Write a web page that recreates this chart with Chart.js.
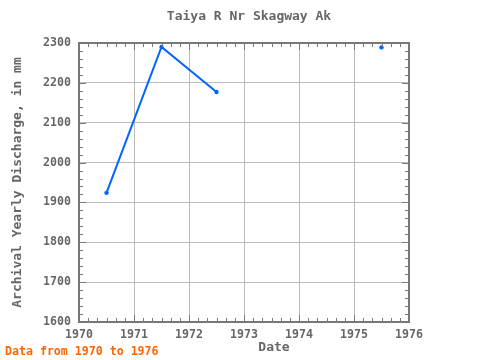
<!DOCTYPE html>
<html>
<head>
<meta charset="UTF-8">
<script src="https://cdn.jsdelivr.net/npm/chart.js"></script>
<style>
  body { margin: 0; background: #fff; }
  #wrap { width: 480px; height: 360px; }
</style>
</head>
<body>
<div id="wrap"><canvas id="grafico" width="480" height="360"></canvas></div>
<script>
    // dados
    const anos = [1970.5, 1971.5, 1972.5, 1973.5, 1974.5, 1975.5]
    const descarga = [1924, 2290, 2177, null, null, 2289]
    const xTicks = [1970, 1971, 1972, 1973, 1974, 1975, 1976]
    const yTicks = [1600, 1700, 1800, 1900, 2000, 2100, 2200, 2300]

    const fonte = "'DejaVu Sans Mono', monospace"
    const cinza = '#666666'

    // ticks para dentro nos quatro lados + moldura + textos extras
    const moldura = {
        id: 'moldura',
        afterDraw(chart) {
            const ctx = chart.ctx
            const a = chart.chartArea
            const x = chart.scales.x
            const y = chart.scales.y
            ctx.save()
            ctx.strokeStyle = '#777777'
            ctx.lineWidth = 1
            ctx.beginPath()
            for (let v = 1970; v <= 1976.001; v += 1 / 6) {
                const px = Math.round(x.getPixelForValue(v)) + 0.5
                const major = Math.abs(v - Math.round(v)) < 0.01
                const len = major ? 7 : 4
                ctx.moveTo(px, a.top); ctx.lineTo(px, a.top + len)
                ctx.moveTo(px, a.bottom); ctx.lineTo(px, a.bottom - len)
            }
            for (let v = 1600; v <= 2300; v += 20) {
                const py = Math.round(y.getPixelForValue(v)) + 0.5
                const major = v % 100 == 0
                const len = major ? 7 : 4
                ctx.moveTo(a.left, py); ctx.lineTo(a.left + len, py)
                ctx.moveTo(a.right, py); ctx.lineTo(a.right - len, py)
            }
            ctx.stroke()
            ctx.lineWidth = 2
            ctx.strokeRect(a.left, a.top, a.right - a.left, a.bottom - a.top)

            ctx.fillStyle = cinza
            ctx.font = "bold 13px " + fonte
            ctx.textAlign = 'center'
            ctx.textBaseline = 'middle'
            ctx.fillText('Taiya R Nr Skagway Ak', 249, 17)
            ctx.fillText('Date', 274, 348)

            ctx.fillStyle = '#ff6600'
            ctx.font = "bold 11.6px " + fonte
            ctx.textAlign = 'left'
            ctx.fillText('Data from 1970 to 1976', 5, 352)
            ctx.restore()
        }
    }

    new Chart(grafico, {
        type: 'line',
        data: {
            labels: anos,
            datasets: [{
                data: anos.map((a, i) => ({ x: a, y: descarga[i] })),
                borderColor: '#0066ff',
                backgroundColor: '#0066ff',
                borderWidth: 2,
                pointRadius: 2.2,
                pointBorderWidth: 0,
                spanGaps: false,
                tension: 0
            }]
        },
        options: {
            responsive: false,
            animation: false,
            layout: { padding: { top: 43, right: 71, left: 0, bottom: 0 } },
            plugins: { legend: { display: false }, tooltip: { enabled: false } },
            scales: {
                x: {
                    type: 'linear',
                    min: 1970,
                    max: 1976,
                    afterBuildTicks: s => { s.ticks = xTicks.map(v => ({ value: v })) },
                    afterFit: s => { s.height = 38 },
                    grid: { color: '#bbbbbb', drawTicks: false },
                    border: { display: false },
                    ticks: {
                        padding: 6,
                        color: cinza,
                        font: { family: fonte, size: 11.6, weight: 'bold' },
                        callback: v => String(v)
                    }
                },
                y: {
                    min: 1600,
                    max: 2300,
                    afterBuildTicks: s => { s.ticks = yTicks.map(v => ({ value: v })) },
                    afterFit: s => { s.width = 79 },
                    grid: { color: '#bbbbbb', drawTicks: false },
                    border: { display: false },
                    title: {
                        display: true,
                        text: 'Archival Yearly Discharge, in mm',
                        color: cinza,
                        font: { family: fonte, size: 13, weight: 'bold' },
                        padding: { top: 10, bottom: 4 }
                    },
                    ticks: {
                        padding: 8,
                        color: cinza,
                        font: { family: fonte, size: 11.6, weight: 'bold' },
                        callback: v => String(v)
                    }
                }
            }
        },
        plugins: [moldura]
    });
</script>
</body>
</html>
